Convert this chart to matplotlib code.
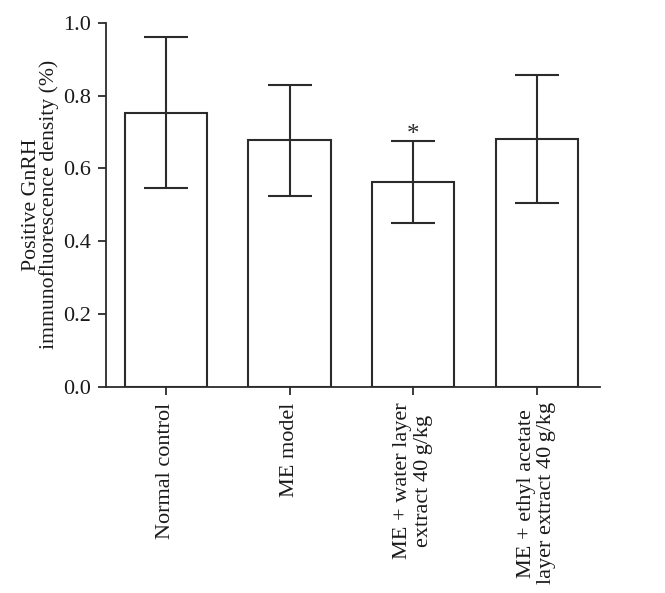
import numpy as np
import matplotlib.pyplot as plt

groups = ["Normal control", "ME model", "ME + water layer\nextract 40\u2009g/kg",
          "ME + ethyl acetate\nlayer extract 40\u2009g/kg"]
means = [0.753, 0.677, 0.562, 0.681]
errs = [0.207, 0.153, 0.112, 0.175]
signif = ["", "", "*", ""]

plt.rcParams['font.family'] = ['Liberation Serif', 'DejaVu Serif']
lc = "#2b2b2b"

fig = plt.figure(figsize=(6.65, 5.93), dpi=100)
ax = fig.add_axes([0.1594, 0.3474, 0.7426, 0.6143])

x = np.arange(len(groups))
ax.bar(x, means, width=0.665, color="white", edgecolor=lc, linewidth=1.5)
ax.errorbar(x, means, yerr=errs, fmt="none", ecolor=lc, elinewidth=1.5,
            capsize=16, capthick=1.5)
for i, s in enumerate(signif):
    if s:
        ax.text(x[i], means[i] + errs[i] - 0.012, s, ha="center", va="bottom",
                fontsize=18, color=lc)

ax.set_xlim(-0.485, 3.51)
ax.set_ylim(0, 1.0)
ax.set_yticks([0.0, 0.2, 0.4, 0.6, 0.8, 1.0])
ax.set_yticklabels(["0.0", "0.2", "0.4", "0.6", "0.8", "1.0"])
ax.set_xticks(x)
ax.set_xticklabels(groups, rotation=90, va="top", ha="center", linespacing=1.1)
ax.tick_params(axis="both", direction="out", length=6, width=1.3, color=lc,
               labelsize=16, labelcolor="#1a1a1a", pad=5)

for sp in ["top", "right"]:
    ax.spines[sp].set_visible(False)
for sp in ["left", "bottom"]:
    ax.spines[sp].set_color(lc)
    ax.spines[sp].set_linewidth(1.3)

ax.set_ylabel("Positive GnRH\nimmunofluorescence density (%)", fontsize=15.7,
              color="#1a1a1a", linespacing=0.88, labelpad=3)

fig.savefig("out.png", dpi=100)
